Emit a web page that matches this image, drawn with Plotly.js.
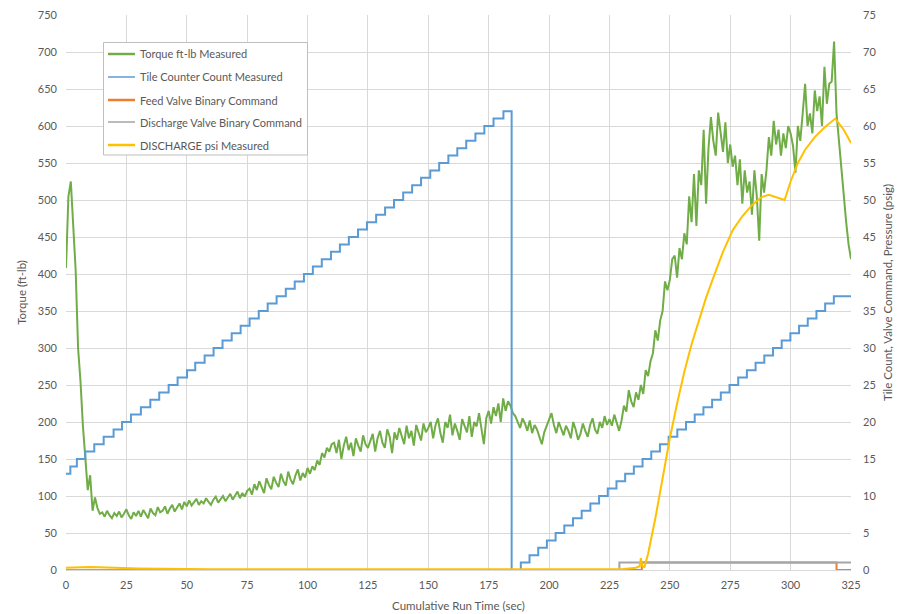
<!DOCTYPE html>
<html>
<head>
<meta charset="utf-8">
<script src="https://cdn.plot.ly/plotly-3.0.1.min.js"></script>
<style>
  html, body { margin: 0; padding: 0; background: #ffffff; }
  #chart { width: 908px; height: 614px; }
</style>
</head>
<body>
<div id="chart"></div>
<script>
// ---------------- DATA ----------------
// Torque (ft-lb), one sample per second from t = 0 s to t = 325 s
const torque = [
  408, 505, 525, 470, 405, 300, 255, 195, 145, 108, 128, 80, 98, 84, 76,
  78, 72, 80, 74, 70, 77, 73, 79, 71, 76, 82, 74, 69, 78, 73, 80,
  72, 81, 75, 70, 83, 77, 74, 85, 78, 80, 86, 76, 83, 88, 79, 85, 90, 82, 92, 86,
  94, 87, 91, 96, 88, 93, 90, 97, 92, 88, 95, 99, 91, 96, 100, 93, 98, 103, 95, 100, 106, 97, 104, 99, 107,
  110, 102, 116, 108, 120, 111, 104, 124, 115, 109, 126, 118, 112, 130, 120, 114, 133, 122, 116, 128, 136, 121, 131, 125, 138,
  130, 140, 135, 148, 142, 158, 152, 165, 160, 170,
  172, 158, 176, 150, 168, 180, 162, 172, 154, 178, 168, 160, 182, 170, 165,
  175, 184, 160, 178, 188, 172, 165, 190, 180, 158, 186, 176, 192, 182, 170, 195, 178, 188, 168, 196, 184, 175, 198, 186, 192,
  200, 178, 196, 205, 185, 172, 200, 192, 210, 182, 198, 188, 176, 204, 195, 186, 208, 180, 200, 194, 212, 190, 170, 205, 215,
  198, 220, 208, 225, 200, 232, 215, 228, 222, 212,
  208, 200, 192, 205, 198, 188, 202, 185, 196, 190, 180, 170, 186, 195, 205,
  212, 196, 185, 200, 192, 182, 195, 188, 178, 200, 190, 176, 184, 198, 188, 180, 196, 205, 190, 184, 200, 192, 208, 196, 204,
  195, 210, 200, 188, 202, 222, 214, 243, 228, 220, 240, 230, 250, 238, 270,
  262, 282, 293, 324, 310, 337, 350, 390, 378, 392, 420,
  425, 395, 435, 420, 455, 440, 505, 470, 535, 465, 540, 520, 595, 495, 570, 612, 580, 560, 618, 590, 565, 605, 550, 575,
  545, 560, 520, 555, 495, 540, 510, 525, 480, 540, 505, 445, 535, 510, 540, 585, 560, 607, 575, 595, 560, 590, 570, 600, 590,
  573, 537, 600, 580, 617, 657, 600, 617, 590, 648, 620, 640, 600, 680, 630, 657, 660, 714,
  617, 580, 540, 500, 470, 440, 420
];
const torqueSampleSec = 1;

// Tile counter: times (s) at which the count changes, and the new count
const tileTime = [
  0, 1.8, 4.5, 8.0, 11.7, 15.6, 19.7, 23.2, 26.9, 31.0,
  34.9, 38.6, 42.5, 46.2, 50.1, 53.5, 57.4, 61.1, 64.8, 68.6,
  72.3, 76.0, 79.8, 83.5, 87.2, 91.0, 94.7, 98.5, 102.2, 105.9,
  109.7, 113.4, 117.1, 120.9, 124.6, 128.4, 132.1, 135.8, 139.6, 143.3,
  147.0, 150.8, 154.5, 158.3, 162.0, 165.7, 169.5, 173.2, 177.0, 181.1,
  184.5,
  188.3, 191.9, 195.5, 199.1, 202.7, 206.3, 209.9, 213.5, 217.1, 220.7,
  224.3, 227.9, 231.5, 235.1, 238.7, 242.3, 245.9, 249.5, 253.1, 256.7,
  260.3, 263.9, 267.5, 271.1, 274.7, 278.3, 281.9, 285.5, 289.1, 292.7,
  296.3, 299.9, 303.5, 307.1, 310.7, 314.3, 317.9,
  325
];
const tileCount = [
  13, 14, 15, 16, 17, 18, 19, 20, 21, 22,
  23, 24, 25, 26, 27, 28, 29, 30, 31, 32,
  33, 34, 35, 36, 37, 38, 39, 40, 41, 42,
  43, 44, 45, 46, 47, 48, 49, 50, 51, 52,
  53, 54, 55, 56, 57, 58, 59, 60, 61, 62,
  0,
  1, 2, 3, 4, 5, 6, 7, 8, 9, 10,
  11, 12, 13, 14, 15, 16, 17, 18, 19, 20,
  21, 22, 23, 24, 25, 26, 27, 28, 29, 30,
  31, 32, 33, 34, 35, 36, 37,
  37
];

// Feed valve binary command (step changes)
const feedTime  = [0, 238.4, 319.0, 325];
const feedValue = [0, 1, 0, 0];

// Discharge valve binary command (step changes)
const dischTime  = [0, 229.1, 325];
const dischValue = [0, 1, 1];

// DISCHARGE psi measured
const psiTime = [0, 10, 20, 30, 60, 120, 180, 230, 236, 237.5, 238, 238.6, 239.5,
  241, 244, 247, 250, 253, 256, 259, 262, 265, 268, 272, 276, 280, 284, 288,
  291, 294, 297.5, 300, 303, 306, 310, 314, 318.5, 322, 325];
const psiValue = [0.3, 0.4, 0.3, 0.2, 0.1, 0.1, 0.1, 0.1, 0.3, 0.5, 1.6, 0.5, 0.4,
  2.2, 7.0, 12.3, 17.8, 22.5, 26.8, 30.5, 33.8, 36.8, 39.5, 43.0, 45.9, 47.8, 49.3, 50.4,
  50.7, 50.4, 50.0, 52.5, 55.0, 56.8, 58.5, 59.8, 61.0, 59.5, 57.7];

// Labels
const seriesNames = [
  'Torque ft-lb Measured',
  'Tile Counter Count Measured',
  'Feed Valve Binary Command',
  'Discharge Valve Binary Command',
  'DISCHARGE psi Measured'
];
const seriesColors = ['#70ad47', '#5b9bd5', '#ed7d31', '#a5a5a5', '#ffc000'];
const xTitle = 'Cumulative Run Time (sec)';
const yTitle = 'Torque (ft-lb)';
const y2Title = 'Tile Count, Valve Command, Pressure (psig)';

// ---------------- CHART ----------------
const torqueTime = torque.map((_, i) => i * torqueSampleSec);

const FONT = 'Lato, "Open Sans", "Liberation Sans", sans-serif';
const TXT = '#595959';
const GRID = '#d9d9d9';

const traces = [
  { x: torqueTime, y: torque, name: seriesNames[0], type: 'scatter', mode: 'lines',
    line: { color: seriesColors[0], width: 2 }, yaxis: 'y' },
  { x: tileTime, y: tileCount, name: seriesNames[1], type: 'scatter', mode: 'lines',
    line: { color: seriesColors[1], width: 2, shape: 'hv' }, yaxis: 'y2' },
  { x: feedTime, y: feedValue, name: seriesNames[2], type: 'scatter', mode: 'lines',
    line: { color: seriesColors[2], width: 2, shape: 'hv' }, yaxis: 'y2' },
  { x: dischTime, y: dischValue, name: seriesNames[3], type: 'scatter', mode: 'lines',
    line: { color: seriesColors[3], width: 2, shape: 'hv' }, yaxis: 'y2' },
  { x: psiTime, y: psiValue, name: seriesNames[4], type: 'scatter', mode: 'lines',
    line: { color: seriesColors[4], width: 2 }, yaxis: 'y2' }
];

// plot area in pixels
const PL = 66, PR = 851, PT = 15, PB = 570;
const px = v => (v - PL) / (PR - PL);
const py = v => (PB - v) / (PB - PT);

// manual legend (Excel style)
const legBox = { x0: 103.5, x1: 307.5, y0: 42.5, y1: 155 };
const legRows = [54, 77, 100, 122, 145];
const legWidths = [2.5, 1.5, 2.5, 1.5, 2.5];
const shapes = [{
  type: 'rect', xref: 'paper', yref: 'paper', layer: 'above',
  x0: px(legBox.x0), x1: px(legBox.x1), y0: py(legBox.y1), y1: py(legBox.y0),
  line: { color: '#bfbfbf', width: 1 }, fillcolor: '#ffffff'
}];
const annotations = [];
seriesNames.forEach((n, i) => {
  shapes.push({
    type: 'line', xref: 'paper', yref: 'paper', layer: 'above',
    x0: px(108), x1: px(135), y0: py(legRows[i]), y1: py(legRows[i]),
    line: { color: seriesColors[i], width: legWidths[i] }
  });
  annotations.push({
    xref: 'paper', yref: 'paper', x: px(138), y: py(legRows[i]),
    xanchor: 'left', yanchor: 'middle', showarrow: false, text: n,
    font: { family: FONT, size: 11, color: TXT }
  });
});

const layout = {
  width: 908, height: 614,
  margin: { l: PL, r: 908 - PR, t: PT, b: 614 - PB, pad: 0 },
  paper_bgcolor: '#ffffff', plot_bgcolor: '#ffffff',
  showlegend: false,
  font: { family: FONT, size: 11, color: TXT },
  xaxis: {
    range: [0, 325], tick0: 0, dtick: 25, tickmode: 'linear',
    showgrid: true, gridcolor: GRID, gridwidth: 1,
    zeroline: false, showline: true, linecolor: GRID, linewidth: 1,
    ticks: '', ticklabelstandoff: 5,
    tickfont: { family: FONT, size: 11, color: TXT },
    title: { text: xTitle, font: { family: FONT, size: 11.5, color: TXT }, standoff: 11 }
  },
  yaxis: {
    range: [0, 750], tick0: 0, dtick: 50, tickmode: 'linear',
    showgrid: true, gridcolor: GRID, gridwidth: 1,
    zeroline: false, showline: false, ticks: '', ticklabelstandoff: 8,
    tickfont: { family: FONT, size: 11, color: TXT },
    title: { text: yTitle, font: { family: FONT, size: 11.5, color: TXT }, standoff: 8 }
  },
  yaxis2: {
    range: [0, 75], tick0: 0, dtick: 5, tickmode: 'linear',
    overlaying: 'y', side: 'right',
    showgrid: false, zeroline: false, showline: false, ticks: '', ticklabelstandoff: 11,
    tickfont: { family: FONT, size: 11, color: TXT },
    title: { text: y2Title, font: { family: FONT, size: 11.5, color: TXT }, standoff: 8 }
  },
  shapes: shapes,
  annotations: annotations
};

Plotly.newPlot('chart', traces, layout, { displayModeBar: false, staticPlot: true });
</script>
</body>
</html>
